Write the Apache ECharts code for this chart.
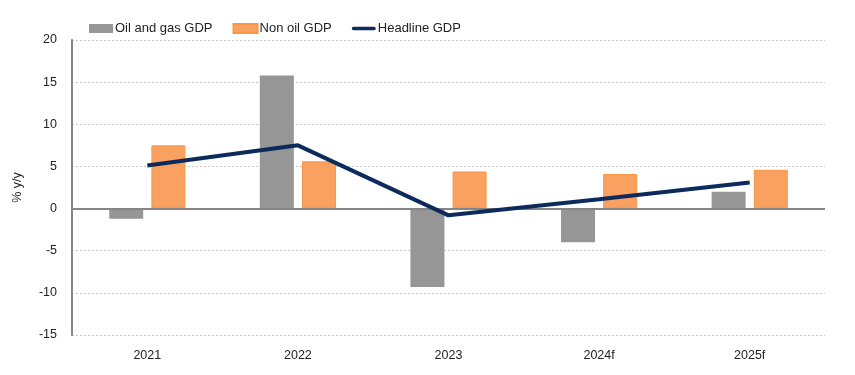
<!DOCTYPE html>
<html><head><meta charset="utf-8">
<script src="https://cdn.jsdelivr.net/npm/echarts@6/dist/echarts.min.js"></script>
<style>html,body{margin:0;padding:0;background:#fff}#c{width:855px;height:375px}</style>
</head><body><div id="c"></div>
<script>
const categories = ['2021', '2022', '2023', '2024f', '2025f'];
const oilGas = [-1.2, 15.8, -9.3, -4.0, 2.0];
const nonOil = [7.5, 5.6, 4.4, 4.1, 4.6];
const headline = [5.1, 7.5, -0.8, 1.1, 3.1];
const yTicks = { min: -15, max: 20, interval: 5 };

const FONT = '"Liberation Sans", Arial, sans-serif';
const FS = 12.5;
const chart = echarts.init(document.getElementById('c'));
chart.setOption({
  animation: false,
  textStyle: { fontFamily: FONT },
  grid: { left: 72, right: 30, top: 40, bottom: 40 },
  legend: {
    top: 17, left: 84,
    itemWidth: 24, itemHeight: 9, itemGap: 20,
    textStyle: { fontFamily: FONT, fontSize: 13, color: '#222', padding: [0, 0, 0, -3] },
    data: [
      { name: 'Oil and gas GDP', icon: 'rect' },
      { name: 'Non oil GDP', icon: 'rect' },
      { name: 'Headline GDP', icon: 'path://M2,0 L26,0 A2,2 0 0 1 26,4 L2,4 A2,2 0 0 1 2,0 Z', itemStyle: { color: '#0C2A5B' } }
    ]
  },
  xAxis: {
    type: 'category', data: categories, position: 'bottom',
    axisLine: { show: false }, axisTick: { show: false },
    axisLabel: { fontFamily: FONT, fontSize: FS, color: '#222', margin: 14 }
  },
  yAxis: {
    type: 'value', min: yTicks.min, max: yTicks.max, interval: yTicks.interval,
    name: '% y/y', nameLocation: 'middle', nameGap: 48, nameRotate: 90,
    nameTextStyle: { fontFamily: FONT, fontSize: FS, color: '#222' },
    axisLine: { show: true, lineStyle: { color: '#858585', width: 2 } },
    axisTick: { show: false },
    axisLabel: { fontFamily: FONT, fontSize: FS, color: '#222', margin: 15 },
    splitLine: { lineStyle: { color: '#c8c8c8', type: [2, 2], width: 1 } }
  },
  series: [
    {
      name: 'Oil and gas GDP', type: 'bar', data: oilGas,
      barWidth: 34, barGap: '24%',
      itemStyle: { color: '#969696' },
      markLine: {
        silent: true, symbol: 'none', label: { show: false },
        lineStyle: { color: '#858585', width: 2, type: 'solid' },
        data: [{ yAxis: 0 }]
      }
    },
    {
      name: 'Non oil GDP', type: 'bar', data: nonOil,
      barWidth: 34,
      itemStyle: { color: '#FAA061', borderColor: '#F79646', borderWidth: 1 }
    },
    {
      name: 'Headline GDP', type: 'line', data: headline,
      symbol: 'none', z: 5,
      lineStyle: { color: '#0C2A5B', width: 4 },
      itemStyle: { color: '#0C2A5B' }
    }
  ]
});
</script></body></html>
